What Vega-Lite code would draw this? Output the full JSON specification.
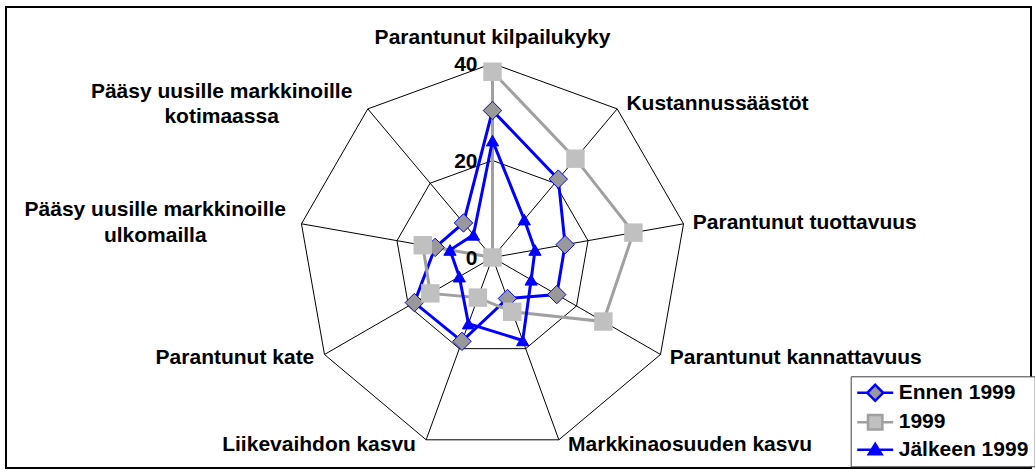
{
  "$schema": "https://vega.github.io/schema/vega-lite/v6.json",
  "width": 1025,
  "height": 461,
  "autosize": {"type": "none"},
  "padding": {"left": 6, "top": 7, "right": 4, "bottom": 4},
  "background": "white",
  "config": {
    "view": {"stroke": "#000000", "strokeWidth": 2},
    "text": {"font": "Liberation Sans", "fontWeight": "bold", "fontSize": 21, "color": "#000000"},
    "legend": {
      "orient": "none", "legendX": 844.7, "legendY": 369.3, "title": null,
      "labelFont": "Liberation Sans", "labelFontWeight": "bold", "labelFontSize": 21, "labelColor": "#000000",
      "strokeColor": "#404040", "fillColor": "#ffffff", "padding": 6, "rowPadding": 3.5,
      "symbolSize": 256, "symbolOffset": 8, "labelOffset": 13, "symbolStrokeWidth": 2.5, "symbolOpacity": 1
    }
  },
  "datasets": {
    "categories": [
      {"category": "Parantunut kilpailukyky", "idx": 0},
      {"category": "Kustannussäästöt", "idx": 1},
      {"category": "Parantunut tuottavuus", "idx": 2},
      {"category": "Parantunut kannattavuus", "idx": 3},
      {"category": "Markkinaosuuden kasvu", "idx": 4},
      {"category": "Liikevaihdon kasvu", "idx": 5},
      {"category": "Parantunut kate", "idx": 6},
      {"category": "Pääsy uusille markkinoille ulkomailla", "idx": 7},
      {"category": "Pääsy uusille markkinoille kotimaassa", "idx": 8}
    ],
    "ticks": [{"tick": 0}, {"tick": 20}, {"tick": 40}],
    "values": [
      {"series": "Ennen 1999", "category": "Parantunut kilpailukyky", "value": 30.3},
      {"series": "Ennen 1999", "category": "Kustannussäästöt", "value": 21.1},
      {"series": "Ennen 1999", "category": "Parantunut tuottavuus", "value": 15.2},
      {"series": "Ennen 1999", "category": "Parantunut kannattavuus", "value": 15.3},
      {"series": "Ennen 1999", "category": "Markkinaosuuden kasvu", "value": 9.0},
      {"series": "Ennen 1999", "category": "Liikevaihdon kasvu", "value": 18.4},
      {"series": "Ennen 1999", "category": "Parantunut kate", "value": 18.6},
      {"series": "Ennen 1999", "category": "Pääsy uusille markkinoille ulkomailla", "value": 12.0},
      {"series": "Ennen 1999", "category": "Pääsy uusille markkinoille kotimaassa", "value": 9.3},
      {"series": "1999", "category": "Parantunut kilpailukyky", "value": 38.3},
      {"series": "1999", "category": "Kustannussäästöt", "value": 26.6},
      {"series": "1999", "category": "Parantunut tuottavuus", "value": 29.5},
      {"series": "1999", "category": "Parantunut kannattavuus", "value": 26.4},
      {"series": "1999", "category": "Markkinaosuuden kasvu", "value": 11.9},
      {"series": "1999", "category": "Liikevaihdon kasvu", "value": 8.8},
      {"series": "1999", "category": "Parantunut kate", "value": 14.8},
      {"series": "1999", "category": "Pääsy uusille markkinoille ulkomailla", "value": 14.6},
      {"series": "1999", "category": "Pääsy uusille markkinoille kotimaassa", "value": 0},
      {"series": "Jälkeen 1999", "category": "Parantunut kilpailukyky", "value": 24.1},
      {"series": "Jälkeen 1999", "category": "Kustannussäästöt", "value": 10.2},
      {"series": "Jälkeen 1999", "category": "Parantunut tuottavuus", "value": 8.9},
      {"series": "Jälkeen 1999", "category": "Parantunut kannattavuus", "value": 9.2},
      {"series": "Jälkeen 1999", "category": "Markkinaosuuden kasvu", "value": 18.2},
      {"series": "Jälkeen 1999", "category": "Liikevaihdon kasvu", "value": 14.5},
      {"series": "Jälkeen 1999", "category": "Parantunut kate", "value": 7.9},
      {"series": "Jälkeen 1999", "category": "Pääsy uusille markkinoille ulkomailla", "value": 8.9},
      {"series": "Jälkeen 1999", "category": "Pääsy uusille markkinoille kotimaassa", "value": 6.1}
    ]
  },
  "encoding": {
    "x": {"field": "x", "type": "quantitative", "scale": {"domain": [-100.309, 111.031], "nice": false, "zero": false}, "axis": null},
    "y": {"field": "y", "type": "quantitative", "scale": {"domain": [-43.402, 51.649], "nice": false, "zero": false}, "axis": null}
  },
  "layer": [
    {
      "data": {"name": "values"},
      "transform": [
        {"filter": "false"},
        {"calculate": "0", "as": "x"},
        {"calculate": "0", "as": "y"}
      ],
      "mark": {"type": "point", "filled": true, "strokeWidth": 2.5, "opacity": 1},
      "encoding": {
        "fill": {"field": "series", "type": "nominal", "scale": {"domain": ["Ennen 1999", "1999", "Jälkeen 1999"], "range": ["#999999", "#c0c0c0", "#0000ff"]}},
        "stroke": {"field": "series", "type": "nominal", "scale": {"domain": ["Ennen 1999", "1999", "Jälkeen 1999"], "range": ["#0000ff", "#a0a0a0", "#0000ff"]}},
        "shape": {"field": "series", "type": "nominal", "scale": {"domain": ["Ennen 1999", "1999", "Jälkeen 1999"], "range": ["M-2.25,0H-1M1,0H2.25M-1,0L0,-1L1,0L0,1Z", "M-2.25,0H-0.9M0.9,0H2.25M-0.9,-0.9H0.9V0.9H-0.9Z", "M-2.25,0H2.25M0,-0.75L0.8,0.55L-0.8,0.55Z"]}}
      }
    },
    {
      "data": {"name": "categories"},
      "transform": [
        {"calculate": "datum.idx * 2 * PI / 9", "as": "a"},
        {"calculate": "0", "as": "x"},
        {"calculate": "0", "as": "y"},
        {"calculate": "40 * sin(datum.a)", "as": "x2"},
        {"calculate": "40 * cos(datum.a)", "as": "y2"}
      ],
      "mark": {"type": "rule", "color": "#000000", "strokeWidth": 1},
      "encoding": {"x2": {"field": "x2"}, "y2": {"field": "y2"}}
    },
    {
      "data": {"name": "categories"},
      "transform": [
        {"calculate": "datum.idx * 2 * PI / 9", "as": "a"},
        {"calculate": "20 * sin(datum.a)", "as": "x"},
        {"calculate": "20 * cos(datum.a)", "as": "y"}
      ],
      "mark": {"type": "line", "interpolate": "linear-closed", "color": "#000000", "strokeWidth": 1},
      "encoding": {"order": {"field": "idx", "type": "quantitative"}}
    },
    {
      "data": {"name": "categories"},
      "transform": [
        {"calculate": "datum.idx * 2 * PI / 9", "as": "a"},
        {"calculate": "40 * sin(datum.a)", "as": "x"},
        {"calculate": "40 * cos(datum.a)", "as": "y"}
      ],
      "mark": {"type": "line", "interpolate": "linear-closed", "color": "#000000", "strokeWidth": 1},
      "encoding": {"order": {"field": "idx", "type": "quantitative"}}
    },
    {
      "data": {"name": "values"},
      "transform": [
        {"lookup": "category", "from": {"data": {"name": "categories"}, "key": "category", "fields": ["idx"]}},
        {"calculate": "datum.idx * 2 * PI / 9", "as": "a"},
        {"calculate": "datum.value * sin(datum.a)", "as": "x"},
        {"calculate": "datum.value * cos(datum.a)", "as": "y"}
      ],
      "mark": {"type": "line", "interpolate": "linear-closed", "strokeWidth": 3},
      "encoding": {
        "stroke": {"field": "series", "type": "nominal", "scale": {"domain": ["Ennen 1999", "1999", "Jälkeen 1999"], "range": ["#0000ff", "#a0a0a0", "#0000ff"]}},
        "order": {"field": "idx", "type": "quantitative"}
      }
    },
    {
      "data": {"name": "values"},
      "transform": [
        {"filter": "datum.series === 'Ennen 1999'"},
        {"lookup": "category", "from": {"data": {"name": "categories"}, "key": "category", "fields": ["idx"]}},
        {"calculate": "datum.idx * 2 * PI / 9", "as": "a"},
        {"calculate": "datum.value * sin(datum.a)", "as": "x"},
        {"calculate": "datum.value * cos(datum.a)", "as": "y"}
      ],
      "mark": {"type": "point", "shape": "diamond", "size": 340, "filled": true, "fill": "#999999", "stroke": "#0000ff", "strokeWidth": 1, "opacity": 1}
    },
    {
      "data": {"name": "values"},
      "transform": [
        {"filter": "datum.series === '1999'"},
        {"lookup": "category", "from": {"data": {"name": "categories"}, "key": "category", "fields": ["idx"]}},
        {"calculate": "datum.idx * 2 * PI / 9", "as": "a"},
        {"calculate": "datum.value * sin(datum.a)", "as": "x"},
        {"calculate": "datum.value * cos(datum.a)", "as": "y"}
      ],
      "mark": {"type": "point", "shape": "square", "size": 340, "filled": true, "fill": "#c0c0c0", "strokeWidth": 0, "opacity": 1}
    },
    {
      "data": {"name": "values"},
      "transform": [
        {"filter": "datum.series === 'Jälkeen 1999'"},
        {"lookup": "category", "from": {"data": {"name": "categories"}, "key": "category", "fields": ["idx"]}},
        {"calculate": "datum.idx * 2 * PI / 9", "as": "a"},
        {"calculate": "datum.value * sin(datum.a)", "as": "x"},
        {"calculate": "datum.value * cos(datum.a)", "as": "y"}
      ],
      "mark": {"type": "point", "shape": "triangle-up", "size": 150, "filled": true, "fill": "#0000ff", "stroke": "#0000ff", "strokeWidth": 1, "opacity": 1}
    },
    {
      "data": {"name": "categories"},
      "transform": [
        {"calculate": "datum.idx * 2 * PI / 9", "as": "a"},
        {"filter": "abs(sin(datum.a)) < 0.01"},
        {"calculate": "0", "as": "x"},
        {"calculate": "41.25 * cos(datum.a)", "as": "y"}
      ],
      "mark": {"type": "text", "align": "center", "baseline": "middle", "dy": -19.5},
      "encoding": {"text": {"field": "category"}}
    },
    {
      "data": {"name": "categories"},
      "transform": [
        {"calculate": "datum.idx * 2 * PI / 9", "as": "a"},
        {"filter": "sin(datum.a) > 0.01"},
        {"calculate": "40 * sin(datum.a) + 1.9", "as": "x"},
        {"calculate": "41.25 * cos(datum.a)", "as": "y"}
      ],
      "mark": {"type": "text", "align": "left", "baseline": "middle"},
      "encoding": {"text": {"field": "category"}}
    },
    {
      "data": {"name": "categories"},
      "transform": [
        {"calculate": "datum.idx * 2 * PI / 9", "as": "a"},
        {"calculate": "replace(datum.category, ' markkinoille ', ' markkinoille\\n')", "as": "lbl"},
        {"filter": "sin(datum.a) < -0.01 && indexof(datum.lbl, '\\n') < 0"},
        {"calculate": "40 * sin(datum.a) - 2.1", "as": "x"},
        {"calculate": "41.25 * cos(datum.a)", "as": "y"}
      ],
      "mark": {"type": "text", "align": "right", "baseline": "middle"},
      "encoding": {"text": {"field": "lbl"}}
    },
    {
      "data": {"name": "categories"},
      "transform": [
        {"calculate": "datum.idx * 2 * PI / 9", "as": "a"},
        {"calculate": "replace(datum.category, ' markkinoille ', ' markkinoille\\n')", "as": "lbl"},
        {"filter": "sin(datum.a) < -0.01 && indexof(datum.lbl, '\\n') >= 0"},
        {"calculate": "40 * sin(datum.a) - 2.1", "as": "x"},
        {"calculate": "41.25 * cos(datum.a)", "as": "y"}
      ],
      "mark": {"type": "text", "align": "center", "baseline": "middle", "dx": -136, "dy": -12.5, "lineBreak": "\n", "lineHeight": 25.5},
      "encoding": {"text": {"field": "lbl"}}
    },
    {
      "data": {"name": "ticks"},
      "transform": [
        {"calculate": "0", "as": "x"},
        {"calculate": "datum.tick", "as": "y"}
      ],
      "mark": {"type": "text", "align": "right", "baseline": "middle", "dx": -15, "dy": 2},
      "encoding": {"text": {"field": "tick", "type": "quantitative"}}
    }
  ]
}
